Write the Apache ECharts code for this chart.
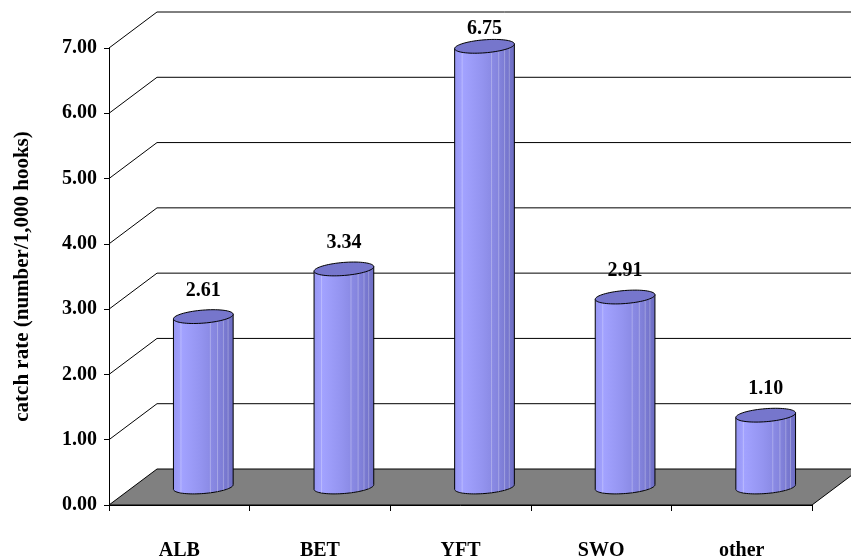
<!DOCTYPE html>
<html>
<head>
<meta charset="utf-8">
<script src="https://cdn.jsdelivr.net/npm/echarts@6/dist/echarts.min.js"></script>
<style>
  html, body { margin: 0; padding: 0; background: #ffffff; }
  #chart { width: 851px; height: 560px; }
</style>
</head>
<body>
<div id="chart"></div>
<script>
// Longline catch rates by species group
const categories = ['ALB', 'BET', 'YFT', 'SWO', 'other'];
const catchRates = [2.61, 3.34, 6.75, 2.91, 1.10];
const rateTicks = [0, 1, 2, 3, 4, 5, 6, 7];

const FONT = "'Liberation Serif', 'Times New Roman', serif";
// depth of the 3D box (back wall offset relative to the front plane)
const DEPTH_DX = 48;
const DEPTH_DY = -36;
// ellipse tilt of the cylinder caps
const TILT = 0.08;
const cosT = Math.cos(TILT), sinT = Math.sin(TILT);

function ellipsePt(cx, cy, rx, ry, t) {
  return [
    cx + rx * Math.cos(t) * cosT + ry * Math.sin(t) * sinT,
    cy - rx * Math.cos(t) * sinT + ry * Math.sin(t) * cosT
  ];
}

// walls, gridlines and floor
function renderBackdrop(params, api) {
  const cs = params.coordSys;
  const x0 = cs.x, x1 = cs.x + cs.width;
  const children = [];
  rateTicks.forEach(function (v) {
    if (v === rateTicks[0]) return;
    const y = api.coord([0, v])[1];
    children.push({
      type: 'polyline',
      shape: { points: [[x0, y], [x0 + DEPTH_DX, y + DEPTH_DY], [x1 + DEPTH_DX, y + DEPTH_DY]] },
      style: { stroke: '#000', lineWidth: 1, fill: null }
    });
  });
  const y0 = api.coord([0, rateTicks[0]])[1];
  children.push({
    type: 'polygon',
    shape: { points: [[x0, y0], [x0 + DEPTH_DX, y0 + DEPTH_DY], [x1 + DEPTH_DX, y0 + DEPTH_DY], [x1, y0]] },
    style: { fill: '#808080', stroke: '#000', lineWidth: 1 }
  });
  return { type: 'group', children: children };
}

// cylinders standing at mid-depth
function renderCylinder(params, api) {
  const i = api.value(0), v = api.value(1);
  const base = api.coord([i, 0]);
  const top = api.coord([i, v]);
  const band = api.size([1, 0])[0];
  const rx = band * 0.213, ry = 6.5;
  const cx = base[0] + DEPTH_DX / 2;
  const baseY = base[1] + DEPTH_DY / 2;
  const topY = top[1] + DEPTH_DY / 2;

  const body = [ellipsePt(cx, topY, rx, ry, Math.PI)];
  const N = 40;
  for (let k = 0; k <= N; k++) {
    const t = Math.PI - Math.PI * k / N;
    body.push(ellipsePt(cx, baseY, rx, ry, t));
  }
  body.push(ellipsePt(cx, topY, rx, ry, 0));

  const cap = [];
  for (let k = 0; k < 72; k++) cap.push(ellipsePt(cx, topY, rx, ry, 2 * Math.PI * k / 72));

  const children = [{
    type: 'polygon',
    shape: { points: body },
    style: {
      fill: {
        type: 'linear', x: 0, y: 0, x2: 1, y2: 0,
        colorStops: [
          { offset: 0, color: '#9696f2' },
          { offset: 0.15, color: '#a2a2ff' },
          { offset: 0.45, color: '#9494f0' },
          { offset: 0.75, color: '#8383dc' },
          { offset: 1, color: '#6c6cc2' }
        ]
      },
      stroke: '#000', lineWidth: 1
    }
  }];
  [0.12, 0.61, 0.73, 0.83, 0.91].forEach(function (f) {
    const t = Math.acos(2 * f - 1);
    const a = ellipsePt(cx, topY, rx, ry, t), b = ellipsePt(cx, baseY, rx, ry, t);
    children.push({
      type: 'line',
      shape: { x1: a[0], y1: a[1], x2: b[0], y2: b[1] },
      style: { stroke: 'rgba(255,255,255,0.28)', lineWidth: 1 }
    });
  });
  children.push({
    type: 'polygon',
    shape: { points: cap },
    style: { fill: '#7676cc', stroke: '#000', lineWidth: 1 }
  });
  children.push({
    type: 'text',
    style: {
      text: v.toFixed(2),
      x: cx,
      y: Math.max(topY - 26, 29),
      align: 'center',
      verticalAlign: 'middle',
      font: 'bold 20px ' + FONT,
      fill: '#000'
    }
  });
  return { type: 'group', children: children };
}

const chart = echarts.init(document.getElementById('chart'), null, { renderer: 'canvas' });
chart.setOption({
  animation: false,
  backgroundColor: '#ffffff',
  grid: { left: 109, right: 39, top: 48, bottom: 55, containLabel: false, outerBoundsMode: 'none' },
  xAxis: {
    type: 'category',
    data: categories,
    z: 5,
    axisLine: { show: true, lineStyle: { color: '#000', width: 1 } },
    axisTick: { show: true, length: 6, lineStyle: { color: '#000' } },
    axisLabel: { color: '#000', fontFamily: FONT, fontWeight: 'bold', fontSize: 20, margin: 36 },
    splitLine: { show: false }
  },
  yAxis: {
    type: 'value',
    min: rateTicks[0],
    max: rateTicks[rateTicks.length - 1],
    interval: 1,
    z: 5,
    name: 'catch rate (number/1,000 hooks)',
    nameLocation: 'middle',
    nameRotate: 90,
    nameGap: 76,
    nameTextStyle: { color: '#000', fontFamily: FONT, fontWeight: 'bold', fontSize: 21 },
    axisLine: { show: true, lineStyle: { color: '#000', width: 1 } },
    axisTick: { show: true, length: 5, lineStyle: { color: '#000' } },
    axisLabel: {
      color: '#000', fontFamily: FONT, fontWeight: 'bold', fontSize: 20, margin: 12,
      formatter: function (v) { return v.toFixed(2); }
    },
    splitLine: { show: false }
  },
  series: [
    {
      type: 'custom',
      z: 1,
      clip: false,
      silent: true,
      renderItem: renderBackdrop,
      data: [[0, 0]],
      encode: { x: 0, y: 1 }
    },
    {
      type: 'custom',
      z: 3,
      clip: false,
      silent: true,
      renderItem: renderCylinder,
      data: catchRates.map(function (v, i) { return [i, v]; }),
      encode: { x: 0, y: 1 }
    }
  ]
});
</script>
</body>
</html>
